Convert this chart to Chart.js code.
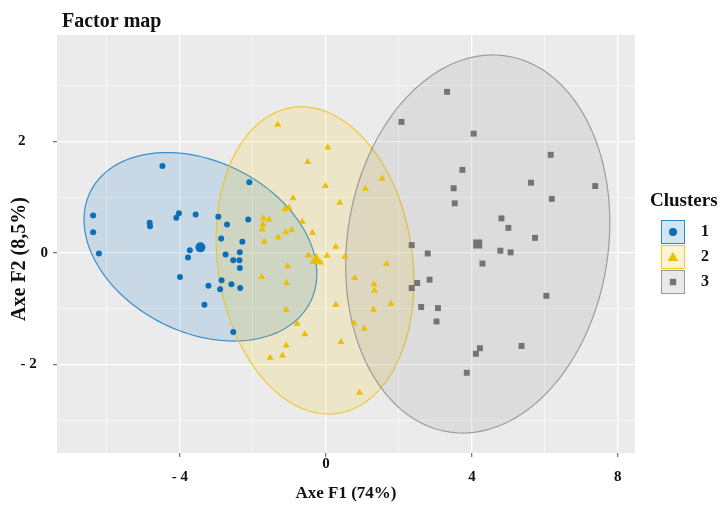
<!DOCTYPE html>
<html>
<head>
<meta charset="utf-8">
<script src="https://cdn.jsdelivr.net/npm/chart.js@4.4.1/dist/chart.umd.min.js"></script>
<style>
  html, body { margin: 0; padding: 0; background: #fff; }
  canvas { display: block; }
</style>
</head>
<body>
<canvas id="chart" width="725" height="505"></canvas>
<script>
const clusterNames = ['1', '2', '3'];
const clusterColors = ['#0073C2', '#EFC000', '#868686'];
const pointColors = ['#0a6fb8', '#EBBE00', '#747474'];

const cluster1X = [-4.48, -2.10, -6.38, -6.38, -6.22, -4.83, -4.82, -4.03, -4.10, -3.57, -2.95, -2.13, -2.71, -2.87, -2.29,
  -3.73, -3.78, -2.75, -2.36, -2.54, -2.37, -2.36, -4.00, -3.22, -2.86, -2.90, -2.59, -2.35, -3.33, -2.54];
const cluster1Y = [1.56, 1.27, 0.67, 0.37, -0.01, 0.54, 0.48, 0.71, 0.63, 0.69, 0.65, 0.60, 0.51, 0.26, 0.20,
  0.05, -0.08, -0.03, 0.01, -0.13, -0.13, -0.27, -0.43, -0.59, -0.49, -0.65, -0.56, -0.63, -0.93, -1.42];

const cluster2X = [-1.32, 0.05, -0.50, -0.01, 1.54, 1.08, -0.90, -1.01, -1.12, 0.38, -0.65, -1.72, -1.56, -1.73, -1.74,
  -0.37, -0.94, -1.10, -1.31, -1.69, 0.27, -0.48, 0.03, 0.52, -0.15, -1.05, 1.66, -1.76, 0.79, 1.32,
  -1.08, 1.33, 0.27, 1.78, 1.30, -1.09, -0.79, 0.77, 1.05, -0.58, 0.41, -1.09, -1.19, -1.53, 0.92];
const cluster2Y = [2.30, 1.89, 1.63, 1.20, 1.33, 1.15, 0.98, 0.81, 0.79, 0.90, 0.56, 0.62, 0.60, 0.51, 0.42,
  0.36, 0.41, 0.37, 0.28, 0.20, 0.11, -0.04, -0.05, -0.07, -0.17, -0.24, -0.20, -0.43, -0.45, -0.56,
  -0.54, -0.68, -0.93, -0.91, -1.02, -1.02, -1.27, -1.26, -1.36, -1.46, -1.60, -1.66, -1.84, -1.88, -2.51];

const cluster3X = [3.32, 2.07, 4.05, 6.16, 3.74, 5.62, 7.38, 3.50, 6.19, 3.53, 4.81, 5.00, 5.73, 2.35, 2.79,
  4.78, 5.06, 4.29, 2.84, 2.50, 2.35, 6.04, 2.61, 3.07, 3.03, 4.22, 4.11, 5.36, 3.86];
const cluster3Y = [2.89, 2.35, 2.14, 1.76, 1.49, 1.26, 1.20, 1.16, 0.97, 0.89, 0.62, 0.45, 0.27, 0.14, -0.01,
  0.04, 0.01, -0.19, -0.48, -0.54, -0.63, -0.77, -0.97, -0.99, -1.23, -1.71, -1.81, -1.67, -2.15];

const centroidX = [-3.44, -0.27, 4.16];
const centroidY = [0.10, -0.13, 0.16];

// ellipse outline: x = cx + w*cos(t), y = cy + skew*cos(t) + h*sin(t)
const ellipseCenterX = [-3.44, -0.30, 4.16];
const ellipseCenterY = [0.11, -0.135, 0.16];
const ellipseHalfWidth = [3.19, 2.71, 3.62];
const ellipseSkew = [-0.485, -0.38, 0.386];
const ellipseHalfHeight = [1.62, 2.73, 3.37];

const xGridValues = [-6, -4, -2, 0, 2, 4, 6, 8];
const xTickValues = [-4, 0, 4, 8];
const xTickLabels = ['- 4', '0', '4', '8'];
const yGridValues = [-3, -2, -1, 0, 1, 2, 3];
const yTickValues = [-2, 0, 2];
const yTickLabels = ['- 2   ', '0', '2      '];

const clusterX = [cluster1X, cluster2X, cluster3X];
const clusterY = [cluster1Y, cluster2Y, cluster3Y];
const pointStyles = ['circle', 'triangle', 'rect'];
const pointRadii = [3, 4, 4.2];
const centroidRadii = [5, 7.5, 6.4];

const serif = '"Liberation Serif", "Times New Roman", serif';

function rgba(hex, a) {
  const n = parseInt(hex.slice(1), 16);
  return `rgba(${(n >> 16) & 255}, ${(n >> 8) & 255}, ${n & 255}, ${a})`;
}

const datasets = [];
clusterNames.forEach((name, i) => {
  datasets.push({
    label: name,
    data: clusterX[i].map((x, j) => ({ x: x, y: clusterY[i][j] })),
    pointStyle: pointStyles[i],
    pointRadius: pointRadii[i],
    backgroundColor: pointColors[i],
    borderWidth: 0
  });
});
clusterNames.forEach((name, i) => {
  datasets.push({
    label: 'centre ' + name,
    data: [{ x: centroidX[i], y: centroidY[i] }],
    pointStyle: pointStyles[i],
    pointRadius: centroidRadii[i],
    backgroundColor: pointColors[i],
    borderWidth: 0
  });
});

const panelPlugin = {
  id: 'panel',
  beforeDraw(chart) {
    const { ctx, chartArea: a } = chart;
    ctx.save();
    ctx.fillStyle = '#EBEBEB';
    ctx.fillRect(a.left, a.top, a.right - a.left, a.bottom - a.top);
    ctx.restore();
  }
};

const ellipsePlugin = {
  id: 'ellipses',
  beforeDatasetsDraw(chart) {
    const { ctx, chartArea: a, scales } = chart;
    ctx.save();
    ctx.beginPath();
    ctx.rect(a.left, a.top, a.right - a.left, a.bottom - a.top);
    ctx.clip();
    clusterNames.forEach((name, i) => {
      ctx.beginPath();
      for (let s = 0; s <= 180; s++) {
        const t = (s / 180) * Math.PI * 2;
        const x = ellipseCenterX[i] + ellipseHalfWidth[i] * Math.cos(t);
        const y = ellipseCenterY[i] + ellipseSkew[i] * Math.cos(t) + ellipseHalfHeight[i] * Math.sin(t);
        const px = scales.x.getPixelForValue(x);
        const py = scales.y.getPixelForValue(y);
        if (s === 0) ctx.moveTo(px, py); else ctx.lineTo(px, py);
      }
      ctx.closePath();
      ctx.fillStyle = rgba(clusterColors[i], 0.15);
      ctx.fill();
      ctx.lineWidth = 1.2;
      ctx.strokeStyle = rgba(clusterColors[i], 0.75);
      ctx.stroke();
    });
    ctx.restore();
  }
};

const textPlugin = {
  id: 'texts',
  afterDraw(chart) {
    const { ctx, chartArea: a } = chart;
    ctx.save();
    // title
    ctx.fillStyle = '#111';
    ctx.font = 'bold 20px ' + serif;
    ctx.textAlign = 'left';
    ctx.textBaseline = 'alphabetic';
    ctx.fillText('Factor map', a.left + 5, 27);

    // legend
    ctx.font = 'bold 19px ' + serif;
    ctx.fillText('Clusters', 650, 206);
    clusterNames.forEach((name, i) => {
      const bx = 661, by = 220 + i * 25, bw = 24, bh = 24;
      ctx.fillStyle = rgba(clusterColors[i], 0.18);
      ctx.fillRect(bx, by, bw, bh);
      ctx.strokeStyle = rgba(clusterColors[i], 0.8);
      ctx.lineWidth = 1;
      ctx.strokeRect(bx + 0.5, by + 0.5, bw - 1, bh - 1);
      Chart.helpers.drawPoint(ctx, {
        pointStyle: pointStyles[i],
        radius: [4, 6, 4.5][i],
        rotation: 0,
        borderWidth: 0
      }, bx + bw / 2, by + bh / 2 + (i === 1 ? 1 : 0));
      ctx.fillStyle = pointColors[i];
      ctx.fill();
      ctx.fillStyle = '#111';
      ctx.font = 'bold 16px ' + serif;
      ctx.textBaseline = 'middle';
      ctx.fillText(name, 701, by + bh / 2);
    });
    ctx.restore();
  }
};

new Chart(document.getElementById('chart'), {
  type: 'scatter',
  data: { datasets: datasets },
  options: {
    responsive: false,
    animation: false,
    devicePixelRatio: 1,
    layout: { padding: { left: 0, right: 90, top: 35, bottom: 0 } },
    plugins: {
      legend: { display: false },
      tooltip: { enabled: false },
      title: { display: false }
    },
    scales: {
      x: {
        type: 'linear',
        min: -7.37,
        max: 8.47,
        afterBuildTicks: (s) => { s.ticks = xGridValues.map(v => ({ value: v })); },
        afterFit: (s) => { s.height = 52; },
        border: { display: false },
        grid: {
          color: '#ffffff',
          lineWidth: (c) => xTickValues.includes(c.tick && c.tick.value) ? 1.3 : 0.6,
          tickLength: 4,
          tickColor: (c) => xTickValues.includes(c.tick && c.tick.value) ? '#777' : 'rgba(0,0,0,0)'
        },
        ticks: {
          autoSkip: false,
          maxRotation: 0,
          padding: 1,
          color: '#111',
          font: { family: serif, weight: 'bold', size: 15, lineHeight: 0.85 },
          callback: (v) => {
            const k = xTickValues.indexOf(v);
            if (k < 0) return '';
            return v === 0 ? xTickLabels[k] : ['', xTickLabels[k]];
          }
        },
        title: {
          display: true,
          text: 'Axe F1 (74%)',
          color: '#111',
          font: { family: serif, weight: 'bold', size: 17 },
          padding: { top: 0, bottom: 1 }
        }
      },
      y: {
        type: 'linear',
        min: -3.59,
        max: 3.91,
        afterBuildTicks: (s) => { s.ticks = yGridValues.map(v => ({ value: v })); },
        afterFit: (s) => { s.width = 57; },
        border: { display: false },
        grid: {
          color: '#ffffff',
          lineWidth: (c) => yTickValues.includes(c.tick && c.tick.value) ? 1.3 : 0.6,
          tickLength: 4,
          tickColor: (c) => yTickValues.includes(c.tick && c.tick.value) ? '#777' : 'rgba(0,0,0,0)'
        },
        ticks: {
          autoSkip: false,
          padding: 5,
          color: '#111',
          font: { family: serif, weight: 'bold', size: 15 },
          callback: (v) => {
            const k = yTickValues.indexOf(v);
            return k < 0 ? '' : yTickLabels[k];
          }
        },
        title: {
          display: true,
          text: 'Axe F2 (8,5%)      ',
          color: '#111',
          font: { family: serif, weight: 'bold', size: 20 },
          padding: { top: 8, bottom: 0 }
        }
      }
    }
  },
  plugins: [panelPlugin, ellipsePlugin, textPlugin]
});
</script>
</body>
</html>
